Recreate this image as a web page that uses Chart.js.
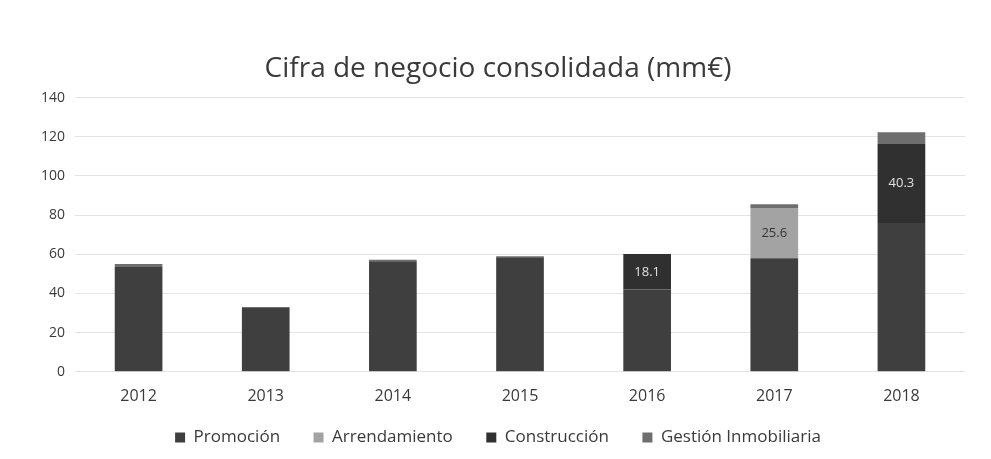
<!DOCTYPE html>
<html>
<head>
<meta charset="utf-8">
<script src="https://cdn.jsdelivr.net/npm/chart.js@4.4.1/dist/chart.umd.min.js"></script>
<style>
    html, body { margin: 0; padding: 0; background: #fff; }
    #wrap { width: 991px; height: 459px; }
</style>
</head>
<body>
<div id="wrap"><canvas id="ventas"></canvas></div>
<script>
// datos (mm€)
const years = ['2012', '2013', '2014', '2015', '2016', '2017', '2018'];
const promocion = [53.5, 33, 56.5, 58.5, 42, 58, 76];
const arrendamiento = [0, 0, 0, 0, 0, 25.6, 0];
const construccion = [0, 0, 0, 0, 18.1, 0, 40.3];
const gestion = [1.5, 0, 0.7, 0.5, 0, 2, 6];
const yTicks = [0, 20, 40, 60, 80, 100, 120, 140];

const textColor = '#3a3a3a';
const fontFamily = "'Open Sans', 'Liberation Sans', sans-serif";

// etiquetas dentro de los segmentos grandes (excepto Promoción)
const segmentLabels = {
    id: 'segmentLabels',
    afterDatasetsDraw(chart) {
        const ctx = chart.ctx;
        ctx.save();
        ctx.font = '13px ' + fontFamily;
        ctx.textAlign = 'center';
        ctx.textBaseline = 'middle';
        chart.data.datasets.forEach((ds, i) => {
            if (i === 0) return;
            const meta = chart.getDatasetMeta(i);
            meta.data.forEach((bar, j) => {
                const v = ds.data[j];
                if (v < 10) return;
                ctx.fillStyle = ds.labelColor;
                ctx.fillText(v.toFixed(1), bar.x, (bar.y + bar.base) / 2);
            });
        });
        ctx.restore();
    }
};

function createStackedChart(canvasId) {
    const ctx = document.getElementById(canvasId);
    if (!ctx) {
        console.error(`No se encuentra el canvas ${canvasId}`);
        return;
    }

    const common = { barPercentage: 0.75, categoryPercentage: 0.5, borderWidth: 0 };
    const defaultLabels = Chart.defaults.plugins.legend.labels.generateLabels;

    return new Chart(ctx, {
        type: 'bar',
        data: {
            labels: years,
            datasets: [
                { label: 'Promoción', data: promocion, backgroundColor: '#3f3f3f', labelColor: '#fff', ...common },
                { label: 'Arrendamiento', data: arrendamiento, backgroundColor: '#a3a3a3', labelColor: '#333', ...common },
                { label: 'Construcción', data: construccion, backgroundColor: '#303030', labelColor: '#e0e0e0', ...common },
                { label: 'Gestión Inmobiliaria', data: gestion, backgroundColor: '#6e6e6e', labelColor: '#fff', ...common }
            ]
        },
        options: {
            responsive: true,
            maintainAspectRatio: false,
            animation: false,
            layout: {
                padding: { left: 31, right: 26, top: 52, bottom: 3 }
            },
            scales: {
                x: {
                    stacked: true,
                    grid: { display: false, drawTicks: false },
                    border: { display: false },
                    ticks: {
                        color: textColor,
                        font: { family: fontFamily, size: 16 },
                        padding: 15
                    }
                },
                y: {
                    stacked: true,
                    min: 0,
                    max: 140,
                    afterBuildTicks: (axis) => {
                        axis.ticks = yTicks.map(v => ({ value: v }));
                    },
                    grid: { color: '#e4e4e4', drawTicks: false },
                    border: { display: false },
                    ticks: {
                        color: textColor,
                        font: { family: fontFamily, size: 14 },
                        padding: 10
                    }
                }
            },
            plugins: {
                title: {
                    display: true,
                    text: 'Cifra de negocio consolidada (mm€)',
                    color: textColor,
                    font: { family: fontFamily, size: 28, weight: 'normal' },
                    padding: { top: 0, bottom: 12 }
                },
                legend: {
                    position: 'bottom',
                    labels: {
                        color: textColor,
                        font: { family: fontFamily, size: 17 },
                        boxWidth: 10,
                        boxHeight: 10,
                        padding: 8,
                        // más separación entre elementos de la leyenda (salvo el último)
                        generateLabels: (chart) => {
                            const items = defaultLabels(chart);
                            items.forEach((item, i) => {
                                if (i < items.length - 1) item.text = item.text + '\u2003\u2002';
                            });
                            return items;
                        }
                    }
                },
                tooltip: { enabled: false }
            }
        },
        plugins: [segmentLabels]
    });
}

createStackedChart('ventas');
</script>
</body>
</html>
